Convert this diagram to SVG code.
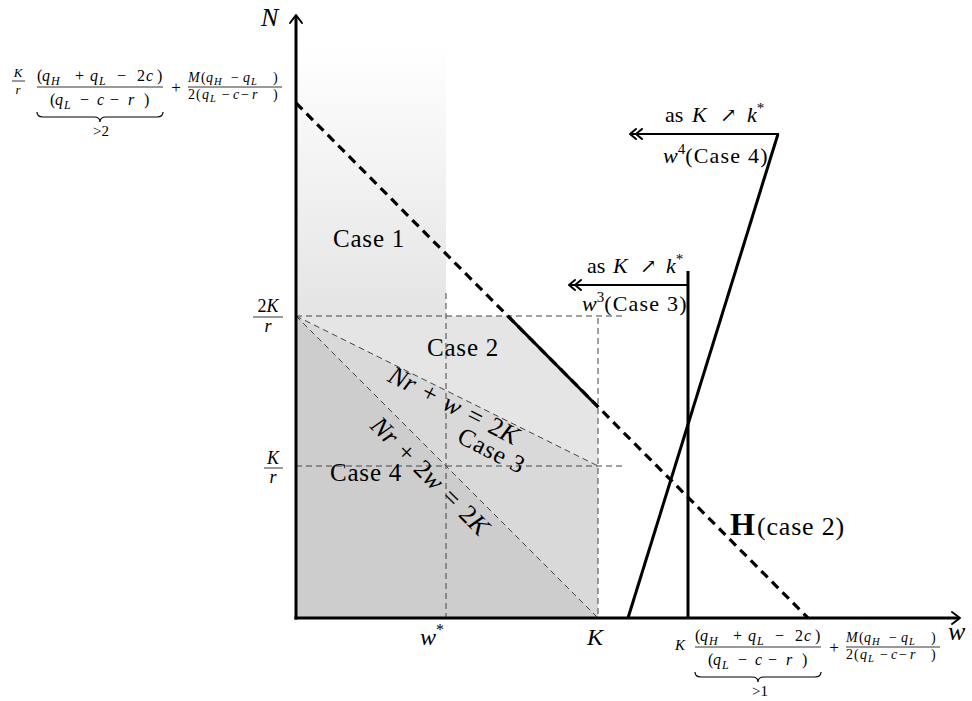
<svg xmlns="http://www.w3.org/2000/svg" width="972" height="701" viewBox="0 0 972 701" font-family="'Liberation Serif', 'DejaVu Serif', serif">
<defs>
<linearGradient id="g1" x1="0" y1="0" x2="0" y2="1">
<stop offset="0" stop-color="#ffffff"/>
<stop offset="1" stop-color="#e4e4e4"/>
</linearGradient>
<style>
text{font-family:"Liberation Serif","DejaVu Serif",serif;fill:#000}
.i{font-style:italic}
.thin{stroke:#444;stroke-width:1;stroke-dasharray:6 4;fill:none}
.thick{stroke:#000;stroke-width:3;fill:none}
.hd{stroke:#000;stroke-width:3.2;stroke-dasharray:9 6;fill:none}
.ah{stroke:#000;stroke-width:2;fill:none;stroke-linecap:round;stroke-linejoin:round}
.bar{stroke:#000;stroke-width:0.8}
.brace{fill:none;stroke:#000;stroke-width:1.2}
.case{font-size:25px;letter-spacing:0.8px}
.eq{font-size:26px;word-spacing:3px}
.f16{font-size:16px}
.f14{font-size:14px}
.s12{font-size:12px;font-style:italic}
.s10{font-size:10.5px;font-style:italic}
.lab{font-size:22px}
</style>
</defs>
<rect width="972" height="701" fill="#fff"/>

<g id="regions">
<rect id="case1-region" x="296" y="45" width="150" height="271" fill="url(#g1)"/>
<polygon id="case2-region" points="296,316 508,316 598,407 598,466" fill="#e5e5e5"/>
<polygon id="case3-region" points="296,316 598,466 598,618" fill="#d9d9d9"/>
<polygon id="case4-region" points="296,316 598,618 296,618" fill="#cdcdcd"/>
</g>

<g id="connectors">
<line class="thin" x1="296" y1="316" x2="622" y2="316"/>
<line class="thin" x1="296" y1="466" x2="622" y2="466"/>
<line class="thin" x1="446" y1="293" x2="446" y2="618"/>
<line class="thin" x1="598" y1="318" x2="598" y2="618"/>
<line class="thin" x1="296" y1="316" x2="598" y2="466"/>
<line class="thin" x1="296" y1="316" x2="598" y2="618"/>
<line id="H-line" class="hd" x1="296" y1="103" x2="808" y2="618"/>
<line id="case2-boundary" class="thick" x1="508" y1="316" x2="598" y2="407"/>
<line id="w3-line" class="thick" x1="688" y1="271" x2="688" y2="618"/>
<line id="w3-arrow" stroke="#000" stroke-width="2" x1="688" y1="285" x2="569" y2="285"/>
<path class="ah" d="M575,280 L569,285 L575,290 M581,280 L575,285 L581,290"/>
<line id="w4-line" class="thick" x1="628" y1="618" x2="778" y2="134"/>
<line id="w4-arrow" stroke="#000" stroke-width="2" x1="779" y1="134" x2="630" y2="134"/>
<path class="ah" d="M636,129 L630,134 L636,139 M642,129 L636,134 L642,139"/>
<line id="y-axis" class="thick" x1="296" y1="619.5" x2="296" y2="16"/>
<line id="x-axis" class="thick" x1="294.5" y1="618" x2="959" y2="618"/>
<path class="ah" d="M290,23 L296,15 L302,23"/>
<path class="ah" d="M952,612 L960,618 L952,624"/>
</g>

<g id="axis-labels">
<text class="i" x="261" y="26" font-size="26">N</text>
<text class="i" x="948" y="640" font-size="26">w</text>
<text x="420" y="645" font-size="24"><tspan class="i">w</tspan><tspan font-size="16" dy="-10">*</tspan></text>
<text class="i" x="587" y="645" font-size="24">K</text>
<g id="label-2Kr">
<text x="268" y="312" font-size="18" text-anchor="middle">2<tspan class="i">K</tspan></text>
<line class="bar" x1="253" y1="317" x2="283" y2="317" stroke-width="1"/>
<text class="i" x="268" y="332" font-size="18" text-anchor="middle">r</text>
</g>
<g id="label-Kr">
<text class="i" x="273" y="464" font-size="18" text-anchor="middle">K</text>
<line class="bar" x1="264" y1="468" x2="283" y2="468" stroke-width="1"/>
<text class="i" x="273" y="483" font-size="18" text-anchor="middle">r</text>
</g>
</g>

<g id="case1"><text class="case" x="333" y="247">Case 1</text></g>
<g id="case2"><text class="case" x="427" y="356">Case 2</text></g>
<g id="case3"><text class="case" transform="translate(488,458) rotate(27)" text-anchor="middle">Case 3</text></g>
<g id="case4"><text class="case" x="330" y="481">Case 4</text></g>

<g id="label-line1">
<text class="eq" transform="translate(450,413) rotate(27)" text-anchor="middle"><tspan class="i">Nr</tspan> + <tspan class="i">w</tspan> = 2<tspan class="i">K</tspan></text>
</g>
<g id="label-line2">
<text class="eq" transform="translate(424,482) rotate(45)" text-anchor="middle"><tspan class="i">Nr</tspan> + 2<tspan class="i">w</tspan> = 2<tspan class="i">K</tspan></text>
</g>

<g id="label-H">
<text x="730" y="535" font-size="32" font-weight="bold">H</text>
<text x="757" y="535" font-size="26" letter-spacing="0.8">(case 2)</text>
</g>

<g id="label-w3">
<text class="lab" x="587" y="273">as</text>
<text class="lab i" x="613" y="273">K</text>
<text x="640" y="273" font-size="20" font-family="DejaVu Sans">↗</text>
<text class="lab" x="666" y="273"><tspan class="i">k</tspan><tspan font-size="15" dy="-9">*</tspan></text>
<text class="lab" x="582" y="311"><tspan class="i">w</tspan><tspan font-size="15" dy="-9">3</tspan><tspan dy="9" letter-spacing="1.2">(Case 3)</tspan></text>
</g>

<g id="label-w4">
<text class="lab" x="665" y="122">as</text>
<text class="lab i" x="692" y="122">K</text>
<text x="720" y="122" font-size="20" font-family="DejaVu Sans">↗</text>
<text class="lab" x="747" y="122"><tspan class="i">k</tspan><tspan font-size="15" dy="-9">*</tspan></text>
<text class="lab" x="663" y="163"><tspan class="i">w</tspan><tspan font-size="15" dy="-9">4</tspan><tspan dy="9" letter-spacing="1.2">(Case 4)</tspan></text>
</g>

<g id="formula-N">
<text class="i" x="18" y="77" font-size="13" text-anchor="middle">K</text>
<line class="bar" x1="12" y1="81" x2="25" y2="81"/>
<text class="i" x="18" y="94" font-size="13" text-anchor="middle">r</text>
<text class="f16"><tspan x="37" y="81">(</tspan><tspan class="i" x="42" y="81">q</tspan><tspan class="s12" x="51" y="85">H</tspan><tspan x="75" y="81">+</tspan><tspan class="i" x="90" y="81">q</tspan><tspan class="s12" x="99" y="85">L</tspan><tspan x="117" y="81">−</tspan><tspan x="137" y="81">2</tspan><tspan class="i" x="146" y="81">c</tspan><tspan x="157" y="81">)</tspan></text>
<line class="bar" x1="37" y1="87" x2="163" y2="87"/>
<text class="f16"><tspan x="50" y="105">(</tspan><tspan class="i" x="55" y="105">q</tspan><tspan class="s12" x="64" y="109">L</tspan><tspan x="80" y="105">−</tspan><tspan class="i" x="97" y="105">c</tspan><tspan x="110" y="105">−</tspan><tspan class="i" x="128" y="105">r</tspan><tspan x="144" y="105">)</tspan></text>
<path class="brace" d="M37,112 q0,5 6,5 H94 q6,0 6,5 q0,-5 6,-5 H157 q6,0 6,-5"/>
<text x="101" y="136" font-size="15" text-anchor="middle">&gt;2</text>
<text x="176" y="93" font-size="17" text-anchor="middle">+</text>
<text class="f14"><tspan class="i" x="188" y="82">M</tspan><tspan x="201" y="82">(</tspan><tspan class="i" x="206" y="82">q</tspan><tspan class="s10" x="214" y="85">H</tspan><tspan x="231" y="82">−</tspan><tspan class="i" x="243" y="82">q</tspan><tspan class="s10" x="251" y="85">L</tspan><tspan x="273" y="82">)</tspan></text>
<line class="bar" x1="188" y1="87" x2="282" y2="87"/>
<text class="f14"><tspan x="188" y="99">2</tspan><tspan x="196" y="99">(</tspan><tspan class="i" x="202" y="99">q</tspan><tspan class="s10" x="210" y="102">L</tspan><tspan x="222" y="99">−</tspan><tspan class="i" x="233" y="99">c</tspan><tspan x="241" y="99">−</tspan><tspan class="i" x="252" y="99">r</tspan><tspan x="273" y="99">)</tspan></text>
</g>

<g id="formula-w">
<text class="i" x="675" y="650" font-size="15">K</text>
<g transform="translate(658,560)">
<text class="f16"><tspan x="37" y="81">(</tspan><tspan class="i" x="42" y="81">q</tspan><tspan class="s12" x="51" y="85">H</tspan><tspan x="75" y="81">+</tspan><tspan class="i" x="90" y="81">q</tspan><tspan class="s12" x="99" y="85">L</tspan><tspan x="117" y="81">−</tspan><tspan x="137" y="81">2</tspan><tspan class="i" x="146" y="81">c</tspan><tspan x="157" y="81">)</tspan></text>
<line class="bar" x1="37" y1="87" x2="163" y2="87"/>
<text class="f16"><tspan x="50" y="105">(</tspan><tspan class="i" x="55" y="105">q</tspan><tspan class="s12" x="64" y="109">L</tspan><tspan x="80" y="105">−</tspan><tspan class="i" x="97" y="105">c</tspan><tspan x="110" y="105">−</tspan><tspan class="i" x="128" y="105">r</tspan><tspan x="144" y="105">)</tspan></text>
<path class="brace" d="M37,112 q0,5 6,5 H94 q6,0 6,5 q0,-5 6,-5 H157 q6,0 6,-5"/>
<text x="102" y="136" font-size="15" text-anchor="middle">&gt;1</text>
<text x="176" y="93" font-size="17" text-anchor="middle">+</text>
<text class="f14"><tspan class="i" x="188" y="82">M</tspan><tspan x="201" y="82">(</tspan><tspan class="i" x="206" y="82">q</tspan><tspan class="s10" x="214" y="85">H</tspan><tspan x="231" y="82">−</tspan><tspan class="i" x="243" y="82">q</tspan><tspan class="s10" x="251" y="85">L</tspan><tspan x="273" y="82">)</tspan></text>
<line class="bar" x1="188" y1="87" x2="282" y2="87"/>
<text class="f14"><tspan x="188" y="99">2</tspan><tspan x="196" y="99">(</tspan><tspan class="i" x="202" y="99">q</tspan><tspan class="s10" x="210" y="102">L</tspan><tspan x="222" y="99">−</tspan><tspan class="i" x="233" y="99">c</tspan><tspan x="241" y="99">−</tspan><tspan class="i" x="252" y="99">r</tspan><tspan x="273" y="99">)</tspan></text>
</g>
</g>
</svg>
